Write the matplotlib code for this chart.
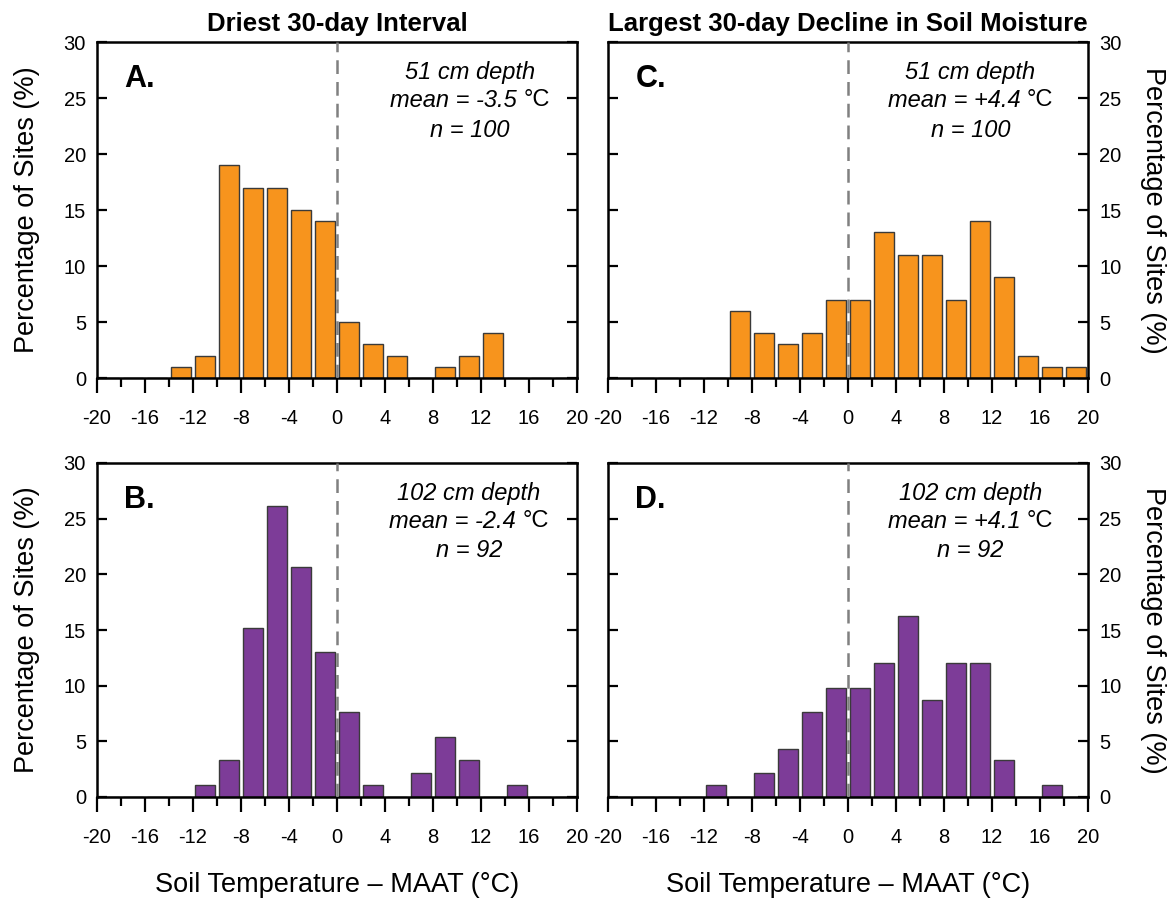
import matplotlib
matplotlib.use("Agg")
import matplotlib.pyplot as plt
from matplotlib.ticker import MultipleLocator

plt.rcParams["font.family"] = ["Liberation Sans", "DejaVu Sans"]

# Histogram bins: 2 °C wide, centred on odd values from -19 to 19
bin_centers = [-19, -17, -15, -13, -11, -9, -7, -5, -3, -1,
               1, 3, 5, 7, 9, 11, 13, 15, 17, 19]

# Percentage of sites per bin
pct_a = [0, 0, 0, 1, 2, 19, 17, 17, 15, 14, 5, 3, 2, 0, 1, 2, 4, 0, 0, 0]
pct_b = [0, 0, 0, 0, 1.1, 3.3, 15.2, 26.1, 20.7, 13.0, 7.6, 1.1, 0, 2.2,
         5.4, 3.3, 0, 1.1, 0, 0]
pct_c = [0, 0, 0, 0, 0, 6, 4, 3, 4, 7, 7, 13, 11, 11, 7, 14, 9, 2, 1, 1]
pct_d = [0, 0, 0, 0, 1.1, 0, 2.2, 4.3, 7.6, 9.8, 9.8, 12.0, 16.3, 8.7,
         12.0, 12.0, 3.3, 0, 1.1, 0]

panel_letters = ["A.", "B.", "C.", "D."]
depth_labels = ["51 cm depth", "102 cm depth", "51 cm depth", "102 cm depth"]
mean_labels = ["-3.5", "-2.4", "+4.4", "+4.1"]
n_labels = ["100", "92", "100", "92"]
column_titles = ["Driest 30-day Interval", "Largest 30-day Decline in Soil Moisture"]
x_tick_values = [-20, -16, -12, -8, -4, 0, 4, 8, 12, 16, 20]
y_tick_values = [0, 5, 10, 15, 20, 25, 30]

ORANGE = "#F7941D"
PURPLE = "#7D3C98"
EDGE = "#3a3a3a"

W, H = 1170, 901
fig = plt.figure(figsize=(W / 100, H / 100), dpi=100)


def px_axes(left, top, right, bottom):
    return fig.add_axes([left / W, 1 - bottom / H, (right - left) / W, (bottom - top) / H])


ax_a = px_axes(97, 42, 577, 378)
ax_c = px_axes(608, 42, 1088, 378)
ax_b = px_axes(97, 463, 577, 797)
ax_d = px_axes(608, 463, 1088, 797)

panels = [
    (ax_a, pct_a, ORANGE, "left", 0.777),
    (ax_b, pct_b, PURPLE, "left", 0.775),
    (ax_c, pct_c, ORANGE, "right", 0.755),
    (ax_d, pct_d, PURPLE, "right", 0.755),
]

renderer = fig.canvas.get_renderer()
text_size = 17
tick_size = 14.5
label_size = 19.5

for i, (ax, pct, color, side, xc) in enumerate(panels):
    ax.bar(bin_centers, pct, width=1.6, color=color, edgecolor=EDGE,
           linewidth=1.0, zorder=2)
    ax.axvline(0, color="#808080", linewidth=1.8, dashes=(5.5, 3.2), zorder=3)

    ax.set_xlim(-20, 20)
    ax.set_ylim(0, 30)
    ax.set_xticks(x_tick_values)
    ax.set_xticklabels([str(v) for v in x_tick_values])
    ax.xaxis.set_minor_locator(MultipleLocator(2))
    ax.set_yticks(y_tick_values)

    for sp in ax.spines.values():
        sp.set_linewidth(1.8)

    ax.tick_params(axis="x", which="major", direction="out", length=11,
                   width=1.6, labelsize=tick_size, pad=11)
    ax.tick_params(axis="x", which="minor", direction="out", length=6.5,
                   width=1.6)
    ax.tick_params(axis="y", which="major", direction="in", length=7,
                   width=1.6, labelsize=tick_size, pad=8, left=True, right=True,
                   labelleft=(side == "left"), labelright=(side == "right"))

    if side == "left":
        ax.set_ylabel("Percentage of Sites (%)", fontsize=label_size)
        ax.yaxis.set_label_coords(-0.146, 0.5)
    else:
        ax.yaxis.set_label_position("right")
        ax.set_ylabel("Percentage of Sites (%)", fontsize=label_size,
                      rotation=270)
        ax.yaxis.set_label_coords(1.135, 0.5)
    ax.yaxis.label.set_verticalalignment("center")

    ax.text(0.057, 0.89, panel_letters[i], transform=ax.transAxes,
            fontsize=22, fontweight="bold", ha="left", va="center")

    ax.text(xc, 0.91, depth_labels[i], transform=ax.transAxes,
            fontsize=text_size, style="italic", ha="center", va="center")
    ax.text(xc, 0.738, "n = " + n_labels[i], transform=ax.transAxes,
            fontsize=text_size, style="italic", ha="center", va="center")

    # mean line: italic value followed by an upright unit
    t1 = ax.text(0, 0.826, "mean = " + mean_labels[i] + " ",
                 transform=ax.transAxes, fontsize=text_size, style="italic",
                 ha="left", va="center")
    t2 = ax.text(0, 0.826, "°C", transform=ax.transAxes, fontsize=text_size,
                 ha="left", va="center")
    ax_w = ax.get_window_extent(renderer).width
    w1 = t1.get_window_extent(renderer).width / ax_w
    w2 = t2.get_window_extent(renderer).width / ax_w
    x0 = xc - (w1 + w2) / 2
    t1.set_x(x0)
    t2.set_x(x0 + w1)

for ax, title in [(ax_a, column_titles[0]), (ax_c, column_titles[1])]:
    ax.set_title(title, fontsize=18.5, fontweight="bold", pad=8)

for ax in (ax_b, ax_d):
    ax.text(0.5, -0.263, "Soil Temperature – MAAT (°C)", transform=ax.transAxes,
            fontsize=label_size, ha="center", va="center")

fig.savefig("out.png", dpi=100)
